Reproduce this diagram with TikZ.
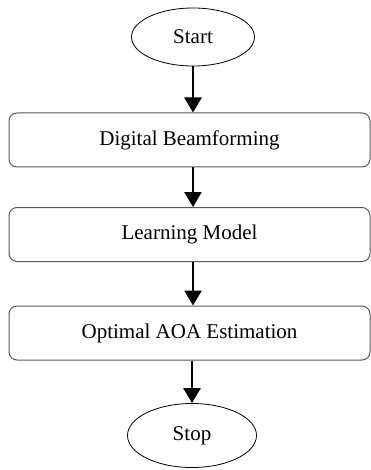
\documentclass[tikz,border=0pt]{standalone}
\usepackage{fontspec}
\setmainfont{Liberation Serif}
\usetikzlibrary{shapes.geometric,arrows.meta}
\begin{document}
\begin{tikzpicture}[x=1pt,y=-1pt,
  term/.style={ellipse,draw=black,line width=0.8pt,inner sep=0pt,font=\fontsize{21}{24}\selectfont},
  stepbox/.style={rectangle,rounded corners=8pt,draw=black!65,line width=1pt,
    minimum width=361pt,minimum height=54pt,inner sep=0pt,font=\fontsize{21}{24}\selectfont},
  flow/.style={line width=2.5pt,-{Triangle[width=17pt,length=15pt]}}]
  \useasboundingbox (0,0) rectangle (371,470);
  % terminals
  \node[term,minimum width=123pt,minimum height=58pt] (start) at (193,37) {Start};
  \node[term,minimum width=129pt,minimum height=64pt] (stop) at (192,435.5) {Stop};
  % process steps
  \node[stepbox] (beam) at (189.5,140) {Digital Beamforming};
  \node[stepbox] (learn) at (189.5,234.5) {Learning Model};
  \node[stepbox] (aoa) at (189.5,333) {Optimal AOA Estimation};
  % connectors
  \draw[flow] (start.south) -- (start.south |- beam.north);
  \draw[flow] (beam.south -| start.south) -- (start.south |- learn.north);
  \draw[flow] (learn.south -| start.south) -- (start.south |- aoa.north);
  \draw[flow] (aoa.south -| stop.north) -- (stop.north);
\end{tikzpicture}
\end{document}
